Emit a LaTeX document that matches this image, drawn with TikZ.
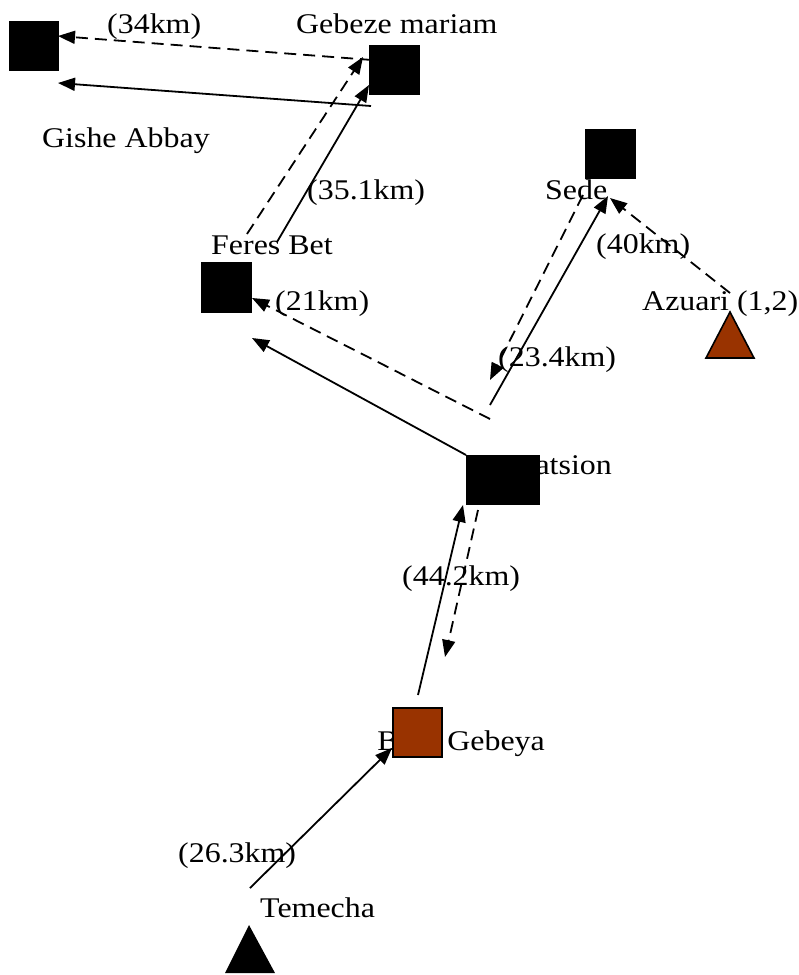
\documentclass[tikz,border=0pt]{standalone}
\usepackage{fontspec}
\setmainfont{Liberation Serif}
\usetikzlibrary{arrows.meta}
\definecolor{rust}{HTML}{993300}
\newcommand{\wide}[1]{\scalebox{1.12}[1]{#1}}
\tikzset{
  lbl/.style={anchor=base west, inner sep=0pt, font=\fontsize{28.5}{32}\selectfont},
  town/.style={fill=black, draw=black, inner sep=0pt},
  market/.style={fill=rust, draw=black, line width=1.6pt},
  route/.style={line width=1.8pt, -{Triangle[length=17pt,width=13pt]}},
  back/.style={route, dash pattern=on 12pt off 7pt},
}
\begin{document}
\begin{tikzpicture}[x=1pt,y=-1pt]
\useasboundingbox (0,0) rectangle (799,975);

% place names and distances
\node[lbl] (t34)   at (107,33)  {\wide{(34km)}};
\node[lbl] (tgm)   at (296,33)  {\wide{Gebeze mariam}};
\node[lbl] (tga)   at (42,147)  {\wide{Gishe Abbay}};
\node[lbl] (t351)  at (307,199) {\wide{(35.1km)}};
\node[lbl] (tfb)   at (211,254) {\wide{Feres Bet}};
\node[lbl] (t21)   at (275,310) {\wide{(21km)}};
\node[lbl] (tsd)   at (545,199) {\wide{Sede}};
\node[lbl] (t40)   at (596,253) {\wide{(40km)}};
\node[lbl] (taz)   at (642,310) {\wide{Azuari (1,2)}};
\node[lbl] (t234)  at (498,366) {\wide{(23.4km)}};
\node[lbl, anchor=base east] (tds) at (612,474) {\wide{Dimatsion}};
\node[lbl] (t442)  at (402,585) {\wide{(44.2km)}};
\node[lbl, anchor=base east] (tbg) at (545,750) {\wide{Bure Gebeya}};
\node[lbl] (t263)  at (178,862) {\wide{(26.3km)}};
\node[lbl] (ttm)   at (260,917) {\wide{Temecha}};

% sites
\fill[town] (9,21) rectangle (58,70);
\fill[town] (369,45) rectangle (419,94);
\fill[town] (201,262) rectangle (251,312);
\fill[town] (585,129) rectangle (635,178);
\fill[town] (466,455) rectangle (539,504);
\filldraw[market] (393,708) rectangle (442,757);
\filldraw[market] (730,312) -- (706,358) -- (754,358) -- cycle;
\fill[black] (249,925) -- (225,973) -- (275,973) -- cycle;

% route end points
\coordinate (gmA) at (372,60);   \coordinate (gaA) at (58,36);
\coordinate (gmB) at (371,106);  \coordinate (gaB) at (58,83);
\coordinate (fbA) at (247,234);  \coordinate (gmC) at (363,57);
\coordinate (fbB) at (277,242);  \coordinate (gmD) at (369,85);
\coordinate (dsA) at (490,419);  \coordinate (fbC) at (252,298);
\coordinate (dsB) at (466,455);  \coordinate (fbD) at (252,338);
\coordinate (dsC) at (490,405);  \coordinate (sdA) at (608,196);
\coordinate (sdB) at (583,195);  \coordinate (dsD) at (490,380);
\coordinate (azA) at (730,293);  \coordinate (sdC) at (610,198);
\coordinate (bgA) at (418,695);  \coordinate (dsE) at (463,505);
\coordinate (dsF) at (478,510);  \coordinate (bgB) at (445,657);
\coordinate (tmA) at (250,888);  \coordinate (bgC) at (392,748);

% routes
\draw[back]  (gmA) -- (gaA);
\draw[route] (gmB) -- (gaB);
\draw[back]  (fbA) -- (gmC);
\draw[route] (fbB) -- (gmD);
\draw[back]  (dsA) -- (fbC);
\draw[route] (dsB) -- (fbD);
\draw[route] (dsC) -- (sdA);
\draw[back]  (sdB) -- (dsD);
\draw[back]  (azA) -- (sdC);
\draw[route] (bgA) -- (dsE);
\draw[back]  (dsF) -- (bgB);
\draw[route] (tmA) -- (bgC);
\end{tikzpicture}
\end{document}
